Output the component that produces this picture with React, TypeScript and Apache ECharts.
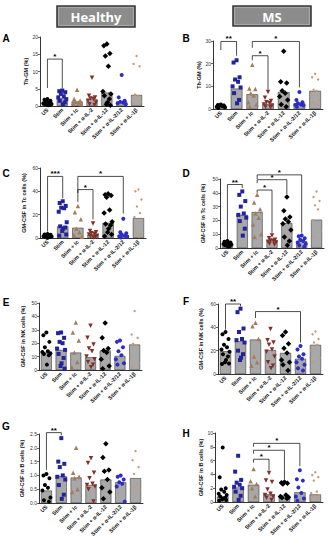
import React, { useEffect, useRef } from 'react';
import * as echarts from 'echarts';

const categories = ['US', 'Stim', 'Stim + Ic', 'Stim + α-IL-2', 'Stim + α-IL-12', 'Stim + α-IL-2/12', 'Stim + α-IL-1β'];

// Panel A – Th-GM (%), Healthy
const aMeans = [1.0, 2.2, 1.3, 2.0, 3.9, 1.3, 3.2];
const aPoints = [
  [2.0, 1.8, 1.5, 1.2, 1.0, 0.8, 0.6, 0.5, 0.3, 0.2],
  [4.5, 4.3, 4.0, 3.5, 2.8, 2.5, 2.0, 1.5, 1.0, 0.5],
  [4.7, 2.0, 1.5, 1.2, 1.0, 0.8, 0.5],
  [8.2, 3.0, 2.5, 2.2, 2.0, 1.5, 1.0, 0.5, 0.3],
  [18.0, 17.5, 15.2, 14.5, 11.5, 4.2, 3.5, 3.0, 2.0, 1.0, 0.5, 0.2],
  [9.0, 2.5, 1.5, 1.2, 1.0, 0.8, 0.5],
  [14.5, 12.2, 11.5, 3.3, 2.8, 2.0, 1.2, 0.5],
];
const aBrackets = [{ from: 0, to: 1, top: 13.6, left: 5.2, right: 5.2, label: '*' }];

// Panel B – Th-GM (%), MS
const bMeans = [1.5, 9.0, 6.5, 2.2, 7.5, 2.5, 8.0];
const bPoints = [
  [2.0, 1.8, 1.6, 1.5, 1.2, 1.0, 0.8, 0.5],
  [21.5, 20.5, 14.0, 13.0, 12.0, 10.0, 9.5, 7.0, 4.0, 2.5],
  [19.5, 9.0, 8.8, 7.0, 6.0, 3.0, 2.0, 1.0],
  [7.5, 5.0, 3.5, 3.0, 2.5, 2.0, 1.5, 1.0, 0.8],
  [25.5, 12.0, 11.5, 8.0, 7.0, 5.5, 4.0, 2.0, 1.0],
  [7.5, 4.0, 3.0, 2.5, 2.0, 1.8, 1.5, 1.0],
  [15.5, 14.0, 13.0, 8.5, 8.0, 6.0, 4.0, 3.0, 2.0],
];
const bBrackets = [
  { from: 0, to: 1, top: 29.8, left: 26.0, right: 23.5, label: '**' },
  { from: 2, to: 5, top: 29.8, left: 27.0, right: 9.5, label: '*' },
  { from: 2, to: 3, top: 23.5, left: 21.5, right: 8.5, label: '*' },
];

// Panel C – GM-CSF in Tc cells (%), Healthy
const cMeans = [2.0, 10.0, 8.8, 3.0, 13.0, 2.5, 17.0];
const cPoints = [
  [3.5, 3.0, 2.8, 2.5, 2.0, 1.5, 1.2, 1.0, 0.8, 0.5, 0.3],
  [31.5, 30.0, 27.5, 26.0, 25.5, 22.5, 13.5, 10.0, 9.0, 8.0, 6.0, 3.0, 2.0],
  [27.5, 22.0, 16.0, 8.0, 5.0, 2.5, 1.0],
  [12.5, 6.0, 5.0, 4.0, 3.5, 3.0, 2.0, 1.5, 1.0, 0.5],
  [38.0, 37.0, 36.5, 35.0, 24.0, 21.5, 14.0, 12.0, 11.0, 8.0, 5.0, 3.0, 1.5],
  [16.5, 5.0, 4.0, 3.0, 2.0, 1.5, 1.0, 0.5],
  [41.5, 40.0, 33.0, 27.0, 21.5, 18.0, 13.0, 8.0, 3.0, 1.0],
];
const cBrackets = [
  { from: 0, to: 1, top: 52.8, left: 5.5, right: 34.0, label: '***' },
  { from: 2, to: 5, top: 52.8, left: 31.0, right: 21.0, label: '*' },
  { from: 2, to: 3, top: 41.5, left: 38.5, right: 16.0, label: '*' },
];

// Panel D – GM-CSF in Tc cells (%), MS
const dMeans = [3.0, 24.0, 26.0, 5.5, 18.0, 5.0, 20.5];
const dPoints = [
  [5.0, 4.5, 4.0, 3.5, 3.2, 3.0, 2.5, 2.0, 1.5, 1.0],
  [41.0, 38.5, 34.0, 30.0, 25.0, 24.0, 22.0, 19.5, 14.0, 9.0],
  [38.5, 33.0, 28.0, 25.0, 22.0, 17.0, 10.0, 8.0],
  [9.0, 7.0, 6.0, 5.5, 5.0, 4.5, 4.0, 3.0, 2.5],
  [37.0, 27.0, 22.5, 21.0, 19.0, 17.5, 13.0, 8.0, 5.0, 2.0],
  [9.0, 8.5, 7.0, 6.0, 5.0, 4.0, 3.0, 2.0, 1.0],
  [41.0, 37.0, 34.0, 31.0, 28.0, 20.0, 12.0, 8.0],
];
const dBrackets = [
  { from: 0, to: 1, top: 46.0, left: 6.5, right: 43.5, label: '**' },
  { from: 2, to: 5, top: 53.0, left: 50.0, right: 11.0, label: '*' },
  { from: 2, to: 4, top: 49.5, left: 47.0, right: 39.0, label: '*' },
  { from: 2, to: 3, top: 42.0, left: 40.0, right: 11.0, label: '*' },
];

// Panel E – GM-CSF in NK cells (%), Healthy
const eMeans = [13.0, 15.0, 13.0, 9.5, 14.5, 10.5, 19.0];
const ePoints = [
  [28.0, 26.0, 21.0, 17.0, 14.0, 13.5, 12.5, 12.0, 11.0, 4.0],
  [28.0, 27.5, 24.0, 21.0, 20.0, 16.0, 15.0, 12.0, 9.0, 5.0, 3.0, 1.0],
  [35.5, 28.0, 22.0, 13.0, 6.0, 2.0],
  [33.0, 24.0, 19.0, 16.0, 14.0, 10.0, 8.0, 6.0, 4.0, 2.0],
  [35.0, 24.0, 16.0, 14.5, 13.0, 8.0, 3.0, 1.0],
  [22.0, 21.0, 17.0, 14.0, 11.0, 8.0, 5.0, 4.0],
  [44.0, 26.5, 24.0, 19.5, 18.0, 10.0, 5.0, 2.0],
];
const eBrackets: any[] = [];

// Panel F – GM-CSF in NK cells (%), MS
const fMeans = [19.5, 28.0, 29.5, 20.5, 18.0, 13.0, 25.0];
const fPoints = [
  [36.0, 34.0, 30.0, 25.0, 23.0, 21.0, 19.0, 17.0, 15.0, 12.0, 10.0, 9.0, 8.5],
  [56.0, 53.0, 39.0, 36.0, 30.0, 29.0, 27.0, 20.0, 17.0, 14.0, 12.0],
  [44.0, 41.0, 30.0, 15.0, 10.0, 7.0],
  [38.5, 29.0, 27.0, 25.0, 21.0, 19.0, 15.0, 10.0, 7.0, 5.0],
  [36.0, 33.0, 26.0, 22.0, 18.0, 12.0, 10.0, 8.0, 3.0],
  [24.0, 21.0, 17.0, 15.0, 13.0, 10.0, 8.0, 5.0, 3.0],
  [36.5, 34.0, 30.0, 27.0, 25.0, 20.0, 14.0, 10.0],
];
const fBrackets = [
  { from: 0, to: 1, top: 60.0, left: 38.0, right: 58.0, label: '**' },
  { from: 2, to: 5, top: 53.5, left: 48.0, right: 27.0, label: '*' },
];

// Panel G – GM-CSF in B cells (%), Healthy
const gMeans = [0.45, 0.97, 0.92, 0.65, 0.85, 0.75, 0.9];
const gPoints = [
  [1.05, 1.0, 0.9, 0.65, 0.55, 0.45, 0.2, 0.1, 0.05],
  [2.35, 1.5, 1.42, 1.3, 1.0, 0.95, 0.85, 0.65, 0.3, 0.15],
  [2.0, 1.1, 0.95, 0.9, 0.5, 0.4],
  [1.62, 1.45, 1.1, 0.9, 0.7, 0.65, 0.6, 0.5, 0.05],
  [2.15, 1.65, 1.2, 1.15, 0.85, 0.55, 0.4, 0.15],
  [1.0, 0.95, 0.85, 0.75, 0.7, 0.6, 0.05],
  [1.88, 1.55, 1.3, 1.05, 0.7, 0.55, 0.5],
];
const gBrackets = [{ from: 0, to: 1, top: 2.55, left: 1.2, right: 2.45, label: '**' }];

// Panel H – GM-CSF in B cells (%), MS
const hMeans = [0.8, 2.1, 2.5, 1.1, 0.9, 1.4, 1.1];
const hPoints = [
  [7.9, 3.6, 2.0, 1.8, 1.5, 1.2, 1.0, 0.8, 0.6, 0.5, 0.4, 0.3, 0.2],
  [6.7, 4.4, 3.2, 2.8, 2.5, 2.2, 2.0, 1.5, 0.9, 0.3],
  [4.8, 3.0, 2.6, 2.0, 0.8],
  [4.2, 3.1, 2.9, 1.8, 1.2, 1.0, 0.8, 0.6, 0.3],
  [2.9, 2.8, 2.7, 2.6, 1.0, 0.8, 0.7, 0.6, 0.5],
  [4.6, 3.3, 3.1, 2.1, 1.3, 0.8, 0.5, 0.2],
  [4.3, 3.9, 3.6, 3.1, 1.5, 1.3, 1.0, 0.8, 0.5],
];
const hBrackets = [
  { from: 2, to: 5, top: 8.5, left: 8.0, right: 5.2, label: '*' },
  { from: 2, to: 4, top: 7.5, left: 7.0, right: 3.3, label: '*' },
  { from: 2, to: 3, top: 6.2, left: 5.7, right: 4.6, label: '*' },
];

const panelData = [
  { letter: 'A', name: 'Th-GM (%)', max: 20, interval: 5, dec: 0, means: aMeans, points: aPoints, brackets: aBrackets },
  { letter: 'B', name: 'Th-GM (%)', max: 30, interval: 10, dec: 0, means: bMeans, points: bPoints, brackets: bBrackets },
  { letter: 'C', name: 'GM-CSF in Tc cells (%)', max: 60, interval: 20, dec: 0, means: cMeans, points: cPoints, brackets: cBrackets },
  { letter: 'D', name: 'GM-CSF in Tc cells (%)', max: 50, interval: 10, dec: 0, means: dMeans, points: dPoints, brackets: dBrackets },
  { letter: 'E', name: 'GM-CSF in NK cells (%)', max: 50, interval: 10, dec: 0, means: eMeans, points: ePoints, brackets: eBrackets },
  { letter: 'F', name: 'GM-CSF in NK cells (%)', max: 60, interval: 20, dec: 0, means: fMeans, points: fPoints, brackets: fBrackets },
  { letter: 'G', name: 'GM-CSF in B cells (%)', max: 2.5, interval: 0.5, dec: 1, means: gMeans, points: gPoints, brackets: gBrackets },
  { letter: 'H', name: 'GM-CSF in B cells (%)', max: 10, interval: 2, dec: 0, means: hMeans, points: hPoints, brackets: hBrackets },
];

// Layout (pixels)
const layout = [
  { left: 40, top: 37, width: 104, height: 69, lx: 6, ly: 38, gap: 11 },
  { left: 213, top: 41, width: 110, height: 68, lx: 186, ly: 38, gap: 11 },
  { left: 40, top: 168, width: 106, height: 70, lx: 6, ly: 173, gap: 13 },
  { left: 220, top: 179, width: 104, height: 69, lx: 186, ly: 173, gap: 14 },
  { left: 39, top: 303, width: 103, height: 67, lx: 6, ly: 302, gap: 13 },
  { left: 218, top: 304, width: 105, height: 70, lx: 186, ly: 301, gap: 14 },
  { left: 39, top: 434, width: 104, height: 69, lx: 6, ly: 426, gap: 14 },
  { left: 215, top: 433, width: 108, height: 69, lx: 186, ly: 433, gap: 10 },
];

const groupStyles = [
  { symbol: 'circle', size: 4, color: '#000000' },
  { symbol: 'rect', size: 4, color: '#22229e' },
  { symbol: 'triangle', size: 4.5, color: '#a57c5b' },
  { symbol: 'path://M0,0L10,0L5,9Z', size: 4.5, color: '#82302a' },
  { symbol: 'diamond', size: 5.5, color: '#000000' },
  { symbol: 'circle', size: 4, color: '#2c2cc8' },
  { symbol: 'circle', size: 2.4, color: '#c99a72' },
];

const jitter = [0, -3, 3, -1.5, 1.5, -4, 4, -2.5, 2.5, 0.5, -0.5, 3.5, -3.5];
const FONT = 'Liberation Sans, Arial, sans-serif';

function buildOption() {
  const grid: any[] = [];
  const xAxis: any[] = [];
  const yAxis: any[] = [];
  const series: any[] = [];
  const graphic: any[] = [];

  panelData.forEach((p, i) => {
    const L = layout[i];
    grid.push({ left: L.left, top: L.top, width: L.width, height: L.height, containLabel: false });
    xAxis.push({
      type: 'category',
      gridIndex: i,
      data: categories,
      axisLine: { lineStyle: { color: '#000', width: 0.8 } },
      axisTick: { show: false },
      axisLabel: {
        interval: 0,
        rotate: 45,
        fontSize: 5.5,
        fontWeight: 'bold',
        fontFamily: FONT,
        color: '#111',
        margin: 3,
      },
    });
    yAxis.push({
      type: 'value',
      gridIndex: i,
      min: 0,
      max: p.max,
      interval: p.interval,
      name: p.name,
      nameLocation: 'middle',
      nameGap: L.gap,
      nameTextStyle: { fontSize: 5.5, fontWeight: 'bold', fontFamily: FONT, color: '#111' },
      axisLine: { show: true, lineStyle: { color: '#000', width: 0.8 } },
      axisTick: { show: true, length: 2, lineStyle: { color: '#000', width: 0.6 } },
      splitLine: { show: false },
      axisLabel: {
        fontSize: 5,
        fontFamily: FONT,
        color: '#333',
        margin: 2,
        formatter: (v: number) => v.toFixed(p.dec),
      },
    });
    series.push({
      type: 'bar',
      xAxisIndex: i,
      yAxisIndex: i,
      data: p.means,
      barWidth: '74%',
      itemStyle: { color: '#a8a8a8', borderColor: '#222', borderWidth: 0.5 },
      z: 1,
    });
    p.points.forEach((vals, g) => {
      const st = groupStyles[g];
      series.push({
        type: 'scatter',
        xAxisIndex: i,
        yAxisIndex: i,
        symbol: st.symbol,
        symbolSize: st.size,
        itemStyle: { color: st.color, opacity: 1 },
        z: 3,
        data: vals.map((v, j) => ({ value: [g, v], symbolOffset: [jitter[j % jitter.length], 0] })),
      });
    });
    if (p.brackets.length) {
      const br = p.brackets;
      series.push({
        type: 'custom',
        xAxisIndex: i,
        yAxisIndex: i,
        clip: false,
        z: 5,
        data: br.map((b: any) => [b.from, b.top]),
        renderItem: (params: any, api: any) => {
          const b = br[params.dataIndex];
          const pL = api.coord([b.from, b.top]);
          const pR = api.coord([b.to, b.top]);
          const pLb = api.coord([b.from, b.left]);
          const pRb = api.coord([b.to, b.right]);
          return {
            type: 'group',
            children: [
              {
                type: 'polyline',
                shape: { points: [pLb, pL, pR, pRb] },
                style: { stroke: '#000', lineWidth: 0.7, fill: null },
              },
              {
                type: 'text',
                style: {
                  text: b.label,
                  x: (pL[0] + pR[0]) / 2,
                  y: pL[1] + 1.5,
                  align: 'center',
                  verticalAlign: 'bottom',
                  fontSize: 8,
                  fontWeight: 'bold',
                  fontFamily: FONT,
                  fill: '#000',
                },
              },
            ],
          };
        },
      });
    }
    graphic.push({
      type: 'text',
      x: L.lx,
      y: L.ly,
      style: {
        text: p.letter,
        fontSize: 10,
        fontWeight: 'bold',
        fontFamily: FONT,
        fill: '#000',
        align: 'center',
        verticalAlign: 'middle',
      },
    });
  });

  const boxes = [
    { x: 57, y: 6, w: 78, h: 21, text: 'Healthy' },
    { x: 233, y: 6, w: 78, h: 20, text: 'MS' },
  ];
  boxes.forEach((b) => {
    graphic.push({
      type: 'rect',
      shape: { x: b.x, y: b.y, width: b.w, height: b.h },
      style: { fill: '#8c8c8c', stroke: '#3a3a3a', lineWidth: 1.6 },
    });
    graphic.push({
      type: 'rect',
      shape: { x: b.x + 1.6, y: b.y + 1.6, width: b.w - 3.2, height: b.h - 3.2 },
      style: { fill: 'none', stroke: '#c8c8c8', lineWidth: 0.5 },
    });
    graphic.push({
      type: 'text',
      x: b.x + b.w / 2,
      y: b.y + b.h / 2 + 0.5,
      style: {
        text: b.text,
        fontSize: 13,
        fontWeight: 'bold',
        fontFamily: 'Open Sans, Liberation Sans, sans-serif',
        fill: '#ffffff',
        align: 'center',
        verticalAlign: 'middle',
      },
    });
  });

  return {
    animation: false,
    backgroundColor: '#ffffff',
    grid,
    xAxis,
    yAxis,
    series,
    graphic,
  };
}

export default function App() {
  const ref = useRef<HTMLDivElement>(null);
  useEffect(() => {
    if (!ref.current) return;
    const chart = echarts.init(ref.current, undefined, { renderer: 'svg' });
    chart.setOption(buildOption() as any);
    return () => chart.dispose();
  }, []);
  return (
    <div
      ref={ref}
      style={{ position: 'fixed', left: 0, top: 0, width: 329, height: 550, background: '#fff' }}
    />
  );
}
